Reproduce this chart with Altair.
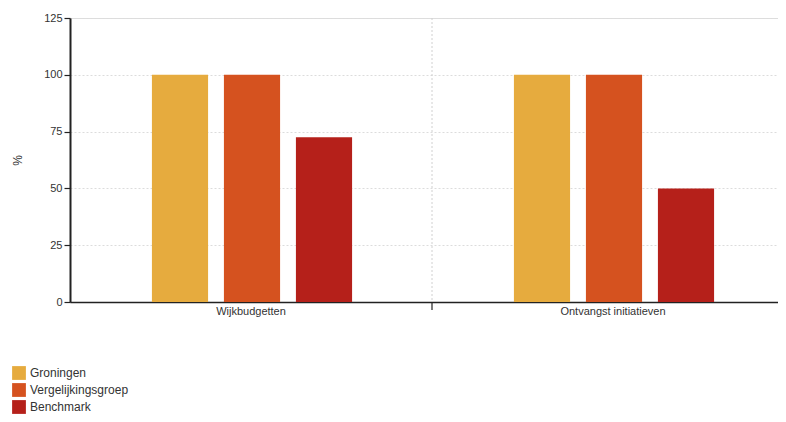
import altair as alt
import pandas as pd

categories = ["Wijkbudgetten", "Ontvangst initiatieven"]
series = ["Groningen", "Vergelijkingsgroep", "Benchmark"]
values = {
    "Groningen": [100, 100],
    "Vergelijkingsgroep": [100, 100],
    "Benchmark": [72.5, 50],
}
colors = ["#E6AB3E", "#D5521F", "#B5201A"]
y_ticks = [0, 25, 50, 75, 100, 125]

rows = []
for s in series:
    for c, v in zip(categories, values[s]):
        rows.append({"cat": c, "serie": s, "waarde": v})
df = pd.DataFrame(rows)

font = "Liberation Sans"

bars = alt.Chart(df).mark_bar().encode(
    x=alt.X("cat:N", sort=categories,
            scale=alt.Scale(domain=categories, paddingInner=0, paddingOuter=0, range=[0, 724]),
            axis=alt.Axis(title=None, ticks=False, grid=False, labelAngle=0,
                          domainColor="#222", domainWidth=1.5, labelFont=font,
                          labelFontSize=11, labelColor="#333", labelPadding=3)),
    xOffset=alt.XOffset("serie:N", sort=series,
                        scale=alt.Scale(domain=series, paddingInner=0.22, paddingOuter=0.11,
                                        range=[74, 290])),
    y=alt.Y("waarde:Q", scale=alt.Scale(domain=[0, 125], nice=False),
            axis=alt.Axis(title="%", values=y_ticks, grid=True, gridDash=[2, 2],
                          gridColor="#dcdcdc", domainColor="#222", domainWidth=2,
                          tickColor="#222", tickSize=6, tickWidth=1.2,
                          labelFont=font, labelFontSize=11, labelColor="#333",
                          titleFont=font, titleFontSize=12, titleFontWeight="normal",
                          titleColor="#333", titleX=-46, titleY=142, titleAngle=270)),
    color=alt.Color("serie:N", sort=series,
                    scale=alt.Scale(domain=series, range=colors),
                    legend=alt.Legend(title=None, orient="none", legendX=-58, legendY=348,
                                      symbolType="square", symbolSize=190, symbolStrokeWidth=0,
                                      labelFont=font, labelFontSize=12, labelColor="#333",
                                      rowPadding=3, padding=0)),
)

div_df = pd.DataFrame({"cat": [categories[1]]})
divider = alt.Chart(div_df).mark_rule(color="#d0d0d0", strokeDash=[2, 2]).encode(
    x=alt.X("cat:N", bandPosition=0),
    y=alt.value(0), y2=alt.value(284),
)
divtick = alt.Chart(div_df).mark_rule(color="#222", strokeWidth=1.2).encode(
    x=alt.X("cat:N", bandPosition=0),
    y=alt.value(284), y2=alt.value(292),
)

chart = alt.layer(bars, divider, divtick).properties(
    width=708, height=284,
    autosize=alt.AutoSizeParams(type="none"),
    padding={"left": 62, "top": 10, "right": 0, "bottom": 112},
).configure_view(stroke=None).configure(background="white")

chart.save("out.html", embed_options={"renderer": "svg", "actions": False})
